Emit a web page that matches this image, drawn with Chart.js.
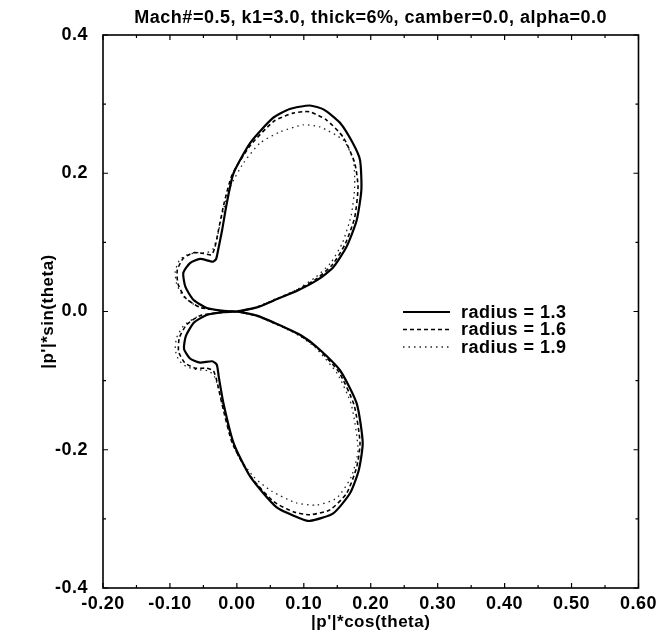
<!DOCTYPE html>
<html>
<head>
<meta charset="utf-8">
<script src="https://cdn.jsdelivr.net/npm/chart.js@4/dist/chart.umd.min.js"></script>
<style>
  html, body { margin: 0; padding: 0; background: #fff; }
  #wrap { width: 661px; height: 639px; }
</style>
</head>
<body>
<div id="wrap"><canvas id="c" width="661" height="639"></canvas></div>
<script>
// ---- text ----
const chartTitle = 'Mach#=0.5, k1=3.0, thick=6%, camber=0.0, alpha=0.0';
const xAxisTitle = "|p'|*cos(theta)";
const yAxisTitle = "|p'|*sin(theta)";
const seriesLabels = ['radius = 1.3', 'radius = 1.6', 'radius = 1.9'];

// ---- ticks ----
const xTicks = [-0.2, -0.1, 0.0, 0.1, 0.2, 0.3, 0.4, 0.5, 0.6];
const xMinorTicks = [-0.15, -0.05, 0.05, 0.15, 0.25, 0.35, 0.45, 0.55];
const yTicks = [-0.4, -0.2, 0.0, 0.2, 0.4];
const yMinorTicks = [-0.3, -0.1, 0.1, 0.3];

// ---- data: [x, y] ----
const r13Upper = [[0,0],[0.03,0.006],[0.06,0.018],[0.09,0.03],[0.121,0.046],[0.144,0.064],[0.164,0.094],[0.179,0.132],[0.186,0.176],[0.184,0.219],[0.173,0.244],[0.154,0.273],[0.13,0.292],[0.109,0.298],[0.079,0.293],[0.054,0.28],[0.02,0.244],[-0.005,0.2],[-0.015,0.157],[-0.022,0.118],[-0.028,0.089],[-0.031,0.076],[-0.036,0.072],[-0.055,0.076],[-0.07,0.07],[-0.08,0.056],[-0.077,0.036],[-0.065,0.017],[-0.045,0.005],[-0.02,0.001],[0,0]];
const r13Lower = [[0,0],[0.03,-0.006],[0.069,-0.022],[0.095,-0.034],[0.119,-0.051],[0.154,-0.085],[0.179,-0.133],[0.188,-0.19],[0.182,-0.23],[0.169,-0.263],[0.144,-0.292],[0.109,-0.303],[0.094,-0.299],[0.059,-0.283],[0.02,-0.239],[-0.005,-0.19],[-0.02,-0.133],[-0.027,-0.095],[-0.03,-0.077],[-0.037,-0.072],[-0.055,-0.074],[-0.07,-0.068],[-0.079,-0.054],[-0.076,-0.035],[-0.064,-0.016],[-0.045,-0.005],[-0.02,-0.001],[0,0]];
const r16Upper = [[0,0],[0.03,0.006],[0.06,0.018],[0.09,0.031],[0.12,0.048],[0.143,0.068],[0.162,0.098],[0.176,0.136],[0.181,0.18],[0.176,0.215],[0.159,0.252],[0.134,0.277],[0.108,0.289],[0.084,0.287],[0.055,0.275],[0.02,0.24],[-0.007,0.198],[-0.019,0.157],[-0.027,0.12],[-0.033,0.092],[-0.038,0.082],[-0.05,0.084],[-0.065,0.085],[-0.08,0.077],[-0.089,0.06],[-0.088,0.04],[-0.077,0.02],[-0.055,0.006],[-0.02,0.001],[0,0]];
const r16Lower = [[0,0],[0.03,-0.006],[0.069,-0.022],[0.095,-0.035],[0.119,-0.052],[0.152,-0.087],[0.175,-0.135],[0.184,-0.19],[0.179,-0.225],[0.164,-0.263],[0.139,-0.287],[0.109,-0.294],[0.085,-0.29],[0.055,-0.275],[0.02,-0.238],[-0.007,-0.19],[-0.022,-0.135],[-0.03,-0.1],[-0.035,-0.086],[-0.045,-0.082],[-0.062,-0.082],[-0.078,-0.074],[-0.087,-0.058],[-0.086,-0.038],[-0.075,-0.019],[-0.055,-0.006],[-0.02,-0.001],[0,0]];
const r19Upper = [[0,0],[0.03,0.007],[0.06,0.019],[0.09,0.032],[0.118,0.05],[0.14,0.07],[0.158,0.1],[0.171,0.14],[0.176,0.18],[0.174,0.219],[0.159,0.248],[0.124,0.267],[0.099,0.27],[0.065,0.26],[0.035,0.244],[0.01,0.215],[-0.01,0.18],[-0.022,0.14],[-0.03,0.105],[-0.036,0.09],[-0.045,0.085],[-0.06,0.085],[-0.075,0.082],[-0.086,0.074],[-0.092,0.058],[-0.09,0.04],[-0.08,0.022],[-0.06,0.008],[-0.025,0.001],[0,0]];
const r19Lower = [[0,0],[0.03,-0.007],[0.069,-0.023],[0.095,-0.036],[0.118,-0.053],[0.15,-0.09],[0.171,-0.135],[0.181,-0.2],[0.171,-0.239],[0.149,-0.27],[0.119,-0.28],[0.089,-0.277],[0.052,-0.26],[0.025,-0.239],[0.0,-0.205],[-0.015,-0.16],[-0.025,-0.12],[-0.033,-0.095],[-0.042,-0.086],[-0.06,-0.084],[-0.075,-0.08],[-0.087,-0.07],[-0.092,-0.055],[-0.09,-0.038],[-0.08,-0.021],[-0.06,-0.008],[-0.025,-0.001],[0,0]];

const toPts = arr => arr.map(p => ({x: p[0], y: p[1]}));

const datasets = [
  { label: seriesLabels[0], data: toPts(r13Upper.concat(r13Lower)), borderColor: '#000', borderWidth: 2.2, borderDash: [] },
  { label: seriesLabels[1], data: toPts(r16Upper.concat(r16Lower)), borderColor: '#000', borderWidth: 1.6, borderDash: [4, 3] },
  { label: seriesLabels[2], data: toPts(r19Upper.concat(r19Lower)), borderColor: '#222', borderWidth: 1.3, borderDash: [1.5, 4] }
].map(d => Object.assign(d, { showLine: true, pointRadius: 0, fill: false, tension: 0.2 }));

const FONT = 'Liberation Sans, Arial, Helvetica, sans-serif';

const spacingPlugin = {
  id: 'spacing',
  beforeDraw(chart) { chart.ctx.letterSpacing = '0.5px'; },
  afterDraw(chart) { chart.ctx.letterSpacing = '0px'; }
};

const framePlugin = {
  id: 'frame',
  afterDatasetsDraw(chart) {
    const {ctx, chartArea: a, scales} = chart;
    const xs = scales.x, ys = scales.y;
    ctx.save();
    ctx.strokeStyle = '#000';
    ctx.lineWidth = 1.6;
    ctx.setLineDash([]);
    ctx.strokeRect(a.left, a.top, a.right - a.left, a.bottom - a.top);
    ctx.lineWidth = 1.2;
    const tick = (vals, len) => {
      vals.forEach(v => {
        const px = xs.getPixelForValue(v);
        ctx.beginPath();
        ctx.moveTo(px, a.bottom); ctx.lineTo(px, a.bottom - len);
        ctx.moveTo(px, a.top); ctx.lineTo(px, a.top + len);
        ctx.stroke();
      });
    };
    const tickY = (vals, len) => {
      vals.forEach(v => {
        const py = ys.getPixelForValue(v);
        ctx.beginPath();
        ctx.moveTo(a.left, py); ctx.lineTo(a.left + len, py);
        ctx.moveTo(a.right, py); ctx.lineTo(a.right - len, py);
        ctx.stroke();
      });
    };
    tick(xTicks, 5); tick(xMinorTicks, 3);
    tickY(yTicks, 5); tickY(yMinorTicks, 3);

    // legend
    const lx0 = 403, lx1 = 450, ty = [312, 329.5, 347];
    ctx.letterSpacing = '0.5px';
    ctx.font = 'bold 18px ' + FONT;
    ctx.textBaseline = 'middle';
    ctx.textAlign = 'left';
    ctx.fillStyle = '#000';
    chart.data.datasets.forEach((d, i) => {
      ctx.strokeStyle = d.borderColor;
      ctx.lineWidth = d.borderWidth;
      ctx.setLineDash(d.borderDash);
      ctx.beginPath();
      ctx.moveTo(lx0, ty[i]); ctx.lineTo(lx1, ty[i]);
      ctx.stroke();
      ctx.setLineDash([]);
      ctx.fillText(d.label, 461, ty[i] + 1);
    });
    ctx.restore();
  }
};

new Chart(document.getElementById('c'), {
  type: 'scatter',
  data: { datasets },
  options: {
    responsive: false,
    animation: false,
    layout: { padding: { left: 0, right: 20, top: 0, bottom: 0 } },
    plugins: {
      legend: { display: false },
      tooltip: { enabled: false },
      title: {
        display: true,
        fullSize: false,
        text: chartTitle,
        color: '#000',
        font: { family: FONT, size: 18, weight: 'bold' },
        padding: { top: 7, bottom: 6.4 },
        align: 'center'
      }
    },
    scales: {
      x: {
        type: 'linear', min: -0.2, max: 0.6,
        afterBuildTicks: s => { s.ticks = xTicks.map(v => ({value: v})); },
        afterFit: s => { s.height = 51; },
        grid: { display: false, drawTicks: false },
        border: { display: false },
        ticks: { color: '#000', padding: 5, maxRotation: 0, autoSkip: false,
          font: { family: FONT, size: 18, weight: 'bold' },
          callback: v => Number(v).toFixed(2) },
        title: { display: true, text: xAxisTitle, color: '#000',
          font: { family: FONT, size: 17, weight: 'bold' }, padding: { top: 0, bottom: 6 } }
      },
      y: {
        type: 'linear', min: -0.4, max: 0.4,
        afterBuildTicks: s => { s.ticks = yTicks.map(v => ({value: v})); },
        afterFit: s => { s.width = 103; },
        grid: { display: false, drawTicks: false },
        border: { display: false },
        ticks: { color: '#000', padding: 15, autoSkip: false,
          font: { family: FONT, size: 18, weight: 'bold' },
          callback: v => Number(v).toFixed(1) },
        title: { display: true, text: yAxisTitle, color: '#000',
          font: { family: FONT, size: 17, weight: 'bold' }, padding: { top: 38, bottom: 0 } }
      }
    }
  },
  plugins: [spacingPlugin, framePlugin]
});
</script>
</body>
</html>
